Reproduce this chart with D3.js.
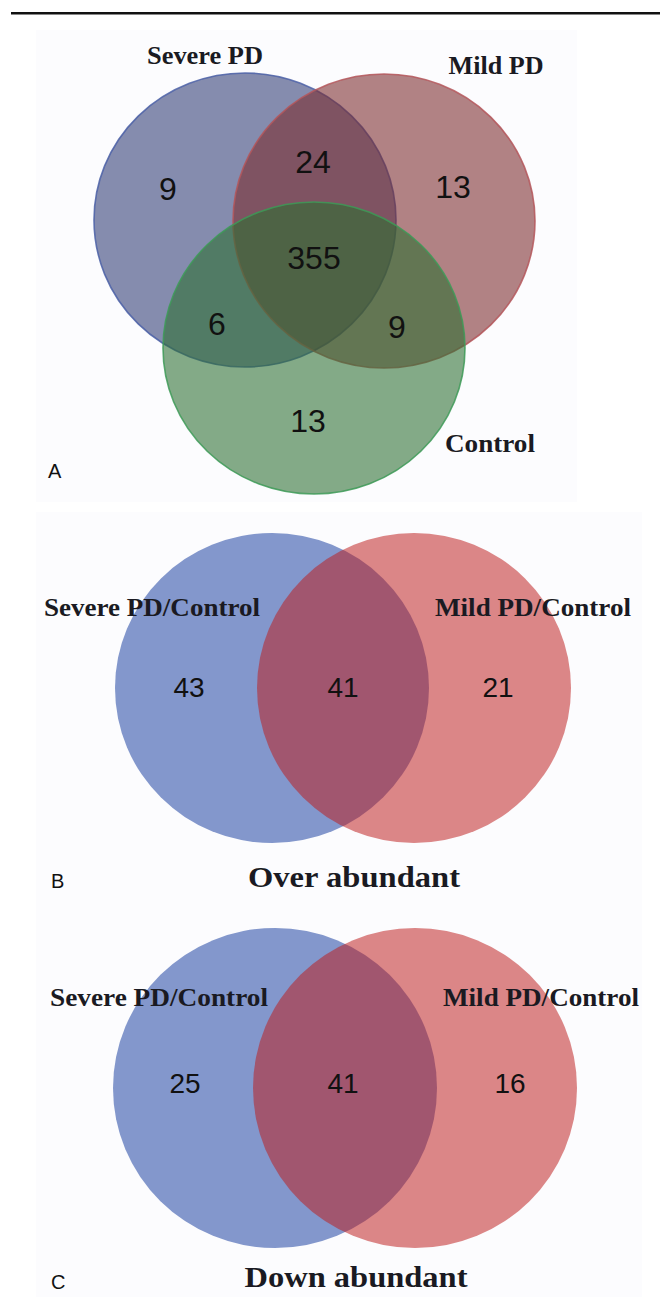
<!DOCTYPE html>
<html>
<head>
<meta charset="utf-8">
<script src="https://cdn.jsdelivr.net/npm/d3@7"></script>
<style>
  html, body { margin: 0; padding: 0; background: #fff; }
  svg { display: block; }
  .setLabel { font-family: "Liberation Serif", "Times New Roman", serif; font-weight: bold; fill: #1a1a22; }
  .count { font-family: "Liberation Sans", Arial, sans-serif; fill: #111; }
  .panel { font-family: "Liberation Sans", Arial, sans-serif; fill: #111; }
</style>
</head>
<body>
<svg width="660" height="1297"></svg>
<script>
// ---- data ----
// Panel A: three-way venn
const setsA = ["Severe PD", "Mild PD", "Control"];
const regionsA = ["S", "M", "C", "SM", "SC", "MC", "SMC"];
const countsA = [9, 13, 13, 24, 6, 9, 355];

// Panels B and C: two-way venns
const setsBC = ["Severe PD/Control", "Mild PD/Control"];
const regionsBC = ["S", "SM", "M"];
const countsB = [43, 41, 21];
const countsC = [25, 41, 16];
const titles = ["Over abundant", "Down abundant"];
const panelLetters = ["A", "B", "C"];

// ---- layout (pixels) ----
const svg = d3.select("svg");

// top rule
svg.append("rect").attr("x", 11).attr("y", 12).attr("width", 649).attr("height", 2.5).attr("fill", "#111");

// very light figure backgrounds
svg.append("rect").attr("x", 36).attr("y", 30).attr("width", 541).attr("height", 472).attr("fill", "#fcfcfe");
svg.append("rect").attr("x", 36).attr("y", 512).attr("width", 606).attr("height", 785).attr("fill", "#fcfcfe");

// ---------- Panel A ----------
const circA = [
  { cx: 245, cy: 220, rx: 151, ry: 147, fill: "#2e3a74", stroke: "#4a5fa6" },
  { cx: 384, cy: 221, rx: 151, ry: 147, fill: "#7b2a2b", stroke: "#b4565b" },
  { cx: 314, cy: 348, rx: 151, ry: 146, fill: "#2b6e30", stroke: "#3d9a57" }
];
const labelPosA = [
  { x: 205, y: 64, w: 116 },
  { x: 496, y: 74, w: 95 },
  { x: 490, y: 452, w: 90 }
];
const countPosA = {
  S: [168, 189], M: [453, 187], C: [308, 421],
  SM: [313, 162], SC: [217, 324], MC: [397, 327], SMC: [314, 258]
};

const gA = svg.append("g");
gA.selectAll("ellipse")
  .data(circA)
  .enter()
  .append("ellipse")
  .attr("cx", d => d.cx).attr("cy", d => d.cy)
  .attr("rx", d => d.rx).attr("ry", d => d.ry)
  .attr("fill", d => d.fill).attr("fill-opacity", 0.58)
  .attr("stroke", d => d.stroke).attr("stroke-width", 1.6).attr("stroke-opacity", 0.85);

gA.selectAll("text.setLabel")
  .data(setsA)
  .enter()
  .append("text")
  .attr("class", "setLabel")
  .attr("x", (d, i) => labelPosA[i].x)
  .attr("y", (d, i) => labelPosA[i].y)
  .attr("text-anchor", "middle")
  .attr("font-size", 26)
  .attr("textLength", (d, i) => labelPosA[i].w)
  .attr("lengthAdjust", "spacingAndGlyphs")
  .text(d => d);

gA.selectAll("text.count")
  .data(regionsA.map((r, i) => ({ r, n: countsA[i] })))
  .enter()
  .append("text")
  .attr("class", "count")
  .attr("x", d => countPosA[d.r][0])
  .attr("y", d => countPosA[d.r][1])
  .attr("text-anchor", "middle")
  .attr("dominant-baseline", "central")
  .attr("font-size", 32)
  .text(d => d.n);

// ---------- Panels B and C ----------
const panelsBC = [
  {
    counts: countsB, title: titles[0], letter: panelLetters[1],
    circles: [{ cx: 272, cy: 688, rx: 157, ry: 155 }, { cx: 414, cy: 688, rx: 157, ry: 155 }],
    labels: [{ x: 152, y: 616, w: 216 }, { x: 533, y: 616, w: 196 }],
    countX: [189, 343, 498], countY: 687,
    titleX: 354, titleY: 887, titleW: 212,
    letterX: 51, letterY: 888
  },
  {
    counts: countsC, title: titles[1], letter: panelLetters[2],
    circles: [{ cx: 275, cy: 1088, rx: 162, ry: 160 }, { cx: 415, cy: 1088, rx: 162, ry: 160 }],
    labels: [{ x: 159, y: 1006, w: 218 }, { x: 541, y: 1006, w: 196 }],
    countX: [185, 343, 510], countY: 1083,
    titleX: 356, titleY: 1287, titleW: 223,
    letterX: 51, letterY: 1289
  }
];
const fillsBC = ["#173d9f", "#bd1d1d"];

panelsBC.forEach(p => {
  const g = svg.append("g");

  g.selectAll("ellipse")
    .data(p.circles)
    .enter()
    .append("ellipse")
    .attr("cx", d => d.cx).attr("cy", d => d.cy)
    .attr("rx", d => d.rx).attr("ry", d => d.ry)
    .attr("fill", (d, i) => fillsBC[i])
    .attr("fill-opacity", 0.53);

  g.selectAll("text.setLabel")
    .data(setsBC)
    .enter()
    .append("text")
    .attr("class", "setLabel")
    .attr("x", (d, i) => p.labels[i].x)
    .attr("y", (d, i) => p.labels[i].y)
    .attr("text-anchor", "middle")
    .attr("font-size", 26)
    .attr("textLength", (d, i) => p.labels[i].w)
    .attr("lengthAdjust", "spacingAndGlyphs")
    .text(d => d);

  g.selectAll("text.count")
    .data(regionsBC.map((r, i) => ({ r, n: p.counts[i], i })))
    .enter()
    .append("text")
    .attr("class", "count")
    .attr("x", d => p.countX[d.i])
    .attr("y", p.countY)
    .attr("text-anchor", "middle")
    .attr("dominant-baseline", "central")
    .attr("font-size", 28)
    .text(d => d.n);

  g.append("text")
    .attr("class", "setLabel")
    .attr("x", p.titleX)
    .attr("y", p.titleY)
    .attr("text-anchor", "middle")
    .attr("font-size", 30)
    .attr("textLength", p.titleW)
    .attr("lengthAdjust", "spacingAndGlyphs")
    .text(p.title);

  g.append("text")
    .attr("class", "panel")
    .attr("x", p.letterX)
    .attr("y", p.letterY)
    .attr("font-size", 20)
    .text(p.letter);
});

// panel letter A
svg.append("text")
  .attr("class", "panel")
  .attr("x", 48)
  .attr("y", 478)
  .attr("font-size", 20)
  .text(panelLetters[0]);
</script>
</body>
</html>
